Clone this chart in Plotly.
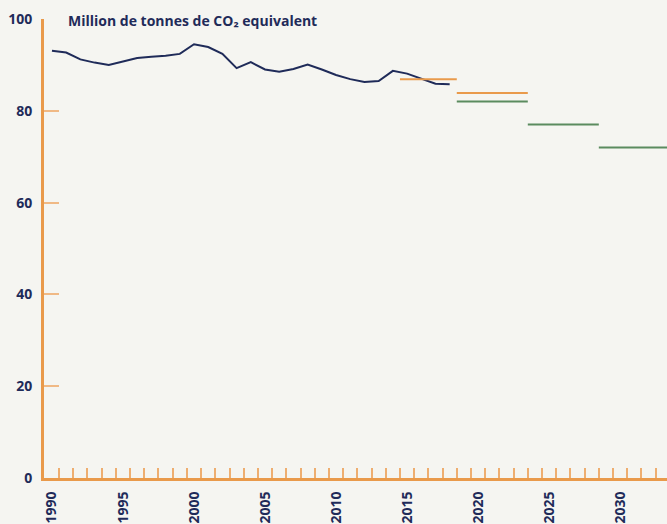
import plotly.graph_objects as go

# Emissions history (Mt CO2e)
years = list(range(1990, 2019))
emissions = [93.1, 92.7, 91.2, 90.5, 90.0, 90.8, 91.5, 91.8, 92.0, 92.4,
             94.5, 93.9, 92.4, 89.3, 90.6, 89.0, 88.5, 89.1, 90.1, 89.0,
             87.8, 86.9, 86.3, 86.5, 88.7, 88.1, 87.0, 85.9, 85.8]

# Targets (orange) by period
orange_start = [2015, 2019]
orange_end = [2018, 2023]
orange_value = [86.9, 83.9]

# Targets (green) by period
green_start = [2019, 2024, 2029]
green_end = [2023, 2028, 2033]
green_value = [82.0, 77.0, 72.0]

label_years = list(range(1990, 2031, 5))
y_ticks = [0, 20, 40, 60, 80, 100]
title_text = "Million de tonnes de CO₂ equivalent"

NAVY = "#1f2b59"
ORANGE = "#e99a4b"
GREEN = "#5b8b5f"
BG = "#f5f5f1"
FONT = "Open Sans"

fig = go.Figure()

fig.add_trace(go.Scatter(x=years, y=emissions, mode="lines",
                         line=dict(color=NAVY, width=2), hoverinfo="skip",
                         showlegend=False))

for s, e, v in zip(orange_start, orange_end, orange_value):
    fig.add_trace(go.Scatter(x=[s - 0.5, e + 0.5], y=[v, v], mode="lines",
                             line=dict(color=ORANGE, width=2),
                             showlegend=False, hoverinfo="skip"))
for s, e, v in zip(green_start, green_end, green_value):
    fig.add_trace(go.Scatter(x=[s - 0.5, e + 0.5], y=[v, v], mode="lines",
                             line=dict(color=GREEN, width=2),
                             showlegend=False, hoverinfo="skip"))

fig.update_layout(
    width=667, height=524,
    margin=dict(l=44, r=0, t=19, b=46, autoexpand=False),
    paper_bgcolor=BG, plot_bgcolor=BG,
    font=dict(family=FONT, color=NAVY),
    xaxis=dict(
        range=[1989.44, 2033.3],
        tickmode="array", tickvals=label_years,
        ticktext=[str(y) for y in label_years],
        tickangle=-90, ticks="",
        tickfont=dict(family=FONT, size=14, color=NAVY, weight="bold"),
        ticklabelstandoff=5, automargin=False,
        showline=True, linecolor=ORANGE, linewidth=3,
        showgrid=False, zeroline=False,
        minor=dict(tickmode="array",
                   tickvals=[y + 0.5 for y in range(1990, 2034)],
                   ticks="inside", ticklen=10, tickwidth=1.5,
                   tickcolor="#eeae70", showgrid=False),
    ),
    yaxis=dict(
        range=[0, 100],
        tickmode="array", tickvals=y_ticks,
        ticks="inside", ticklen=15, tickwidth=1.5, tickcolor="#f0b985",
        tickfont=dict(family=FONT, size=14, color=NAVY, weight="bold"),
        ticklabelstandoff=6, automargin=False,
        showline=True, linecolor=ORANGE, linewidth=3,
        showgrid=False, zeroline=False,
    ),
    annotations=[dict(
        text=title_text, xref="paper", yref="paper",
        x=(66 - 44) / 623, y=1.0, xanchor="left", yanchor="middle",
        yshift=-1, showarrow=False,
        font=dict(family=FONT, size=14, color=NAVY, weight="bold"),
    )],
)

fig.write_html(
    "out.html",
    config={"displayModeBar": False},
    post_script="document.body.style.margin='0';"
                "document.body.style.overflow='hidden';"
                "document.body.style.background='#f5f5f1';",
)
